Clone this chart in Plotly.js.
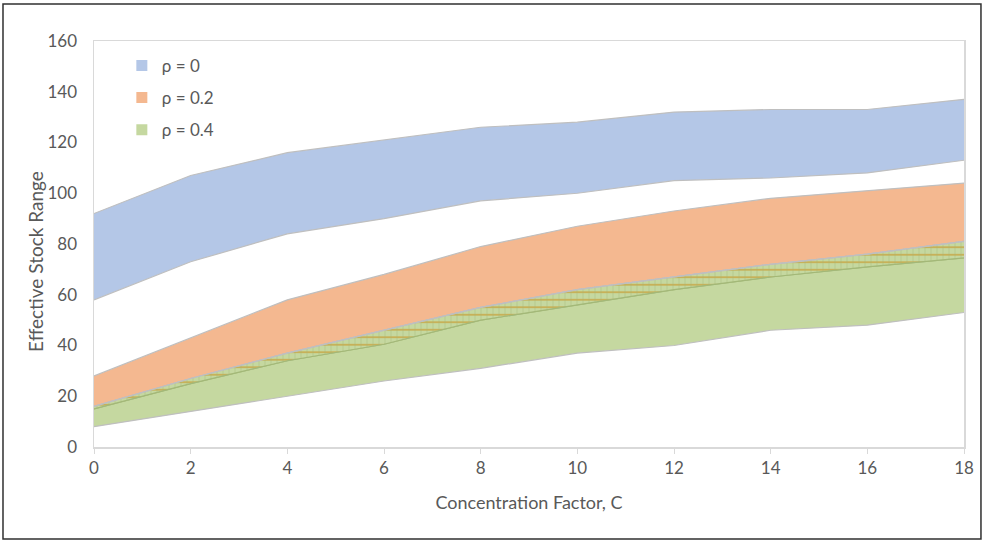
<!DOCTYPE html>
<html>
<head>
<meta charset="utf-8">
<script src="https://cdn.plot.ly/plotly-3.0.1.min.js"></script>
<style>html,body{margin:0;padding:0;background:#fff;}#chart{width:985px;height:543px;}</style>
</head>
<body>
<div id="chart"></div>
<script>
// Concentration factor C
var concentration = [0, 2, 4, 6, 8, 10, 12, 14, 16, 18];
// rho = 0 band
var rho0Lower = [58, 73, 84, 90, 97, 100, 105, 106, 108, 113];
var rho0Upper = [92, 107, 116, 121, 126, 128, 132, 133, 133, 137];
// rho = 0.2 band
var rho02Lower = [16, 27, 37, 46, 55, 62, 67, 72, 76, 81];
var rho02Upper = [28, 43, 58, 68, 79, 87, 93, 98, 101, 104];
// rho = 0.4 band
var rho04Lower = [8, 14, 20, 26, 31, 37, 40, 46, 48, 53];
var rho04Upper = [15, 25, 34, 40.5, 50, 56, 62, 67, 71, 74.5];
var legendNames = ["\u03c1 = 0", "\u03c1 = 0.2", "\u03c1 = 0.4"];
var xTicks = [0, 2, 4, 6, 8, 10, 12, 14, 16, 18];
var yTicks = [0, 20, 40, 60, 80, 100, 120, 140, 160];

var blue = "#b4c7e7", orange = "#f4b890", green = "#c5d8a0";
var edge = {color: "#bfbfbf", width: 1.2};

function line(y, ln, fill, fc, extra) {
  var t = {x: concentration, y: y, type: "scatter", mode: "lines", line: ln, showlegend: false, hoverinfo: "skip"};
  if (fill) { t.fill = fill; t.fillcolor = fc; }
  if (extra) for (var k in extra) t[k] = extra[k];
  return t;
}

var traces = [
  line(rho0Lower, edge),
  line(rho0Upper, edge, "tonexty", blue),
  line(rho02Lower, edge),
  line(rho02Upper, edge, "tonexty", orange),
  line(rho04Lower, edge),
  line(rho04Upper, {color: "#a3b878", width: 1.2}, "tonexty", green),
  // hatched gap between rho=0.4 upper and rho=0.2 lower
  line(rho04Upper, {width: 0}),
  line(rho02Lower, edge, "tonexty", green, {fillpattern: {shape: "-", fgcolor: "#c9a23c", bgcolor: green, size: 7.5, solidity: 0.18}}),
  line(rho04Upper, {width: 0}),
  line(rho02Lower, edge, "tonexty", "rgba(0,0,0,0)", {fillpattern: {shape: "|", fgcolor: "rgba(160,180,115,0.45)", bgcolor: "rgba(0,0,0,0)", size: 6, solidity: 0.15}}),
  line(rho04Upper, {color: "#a3b878", width: 1.2})
];

var legendColors = [blue, orange, green];
for (var i = 0; i < 3; i++) {
  traces.push({x: [null], y: [null], type: "scatter", mode: "markers", name: legendNames[i],
    legendgroup: "g" + i, marker: {symbol: "square", size: 11, color: legendColors[i]}, showlegend: true});
}

var font = "Lato, 'Open Sans', sans-serif";
var layout = {
  width: 985, height: 543,
  margin: {l: 94, r: 21, t: 41, b: 96},
  paper_bgcolor: "#ffffff", plot_bgcolor: "#ffffff",
  font: {family: font, color: "#595959", size: 17},
  showlegend: true,
  legend: {x: 0.032, y: 0.983, xanchor: "left", yanchor: "top", traceorder: "grouped", tracegroupgap: 7,
    font: {family: font, size: 17, color: "#595959"}, bgcolor: "rgba(0,0,0,0)"},
  xaxis: {range: [0, 18], tickvals: xTicks, ticktext: xTicks.map(String), showgrid: false, zeroline: false,
    showline: true, linecolor: "#d9d9d9", linewidth: 1.5, mirror: true,
    ticks: "outside", ticklen: 5, tickcolor: "#d9d9d9",
    title: {text: "Concentration Factor, C", font: {size: 18, color: "#595959"}, standoff: 19}},
  yaxis: {range: [0, 160], tickvals: yTicks, ticktext: yTicks.map(String), showgrid: false, zeroline: false,
    showline: true, linecolor: "#d9d9d9", linewidth: 1.5, mirror: true, ticks: "", ticklabelstandoff: 12},
  annotations: [{text: "Effective Stock Range", xref: "paper", yref: "paper", x: -0.068, y: 0.458,
    xanchor: "center", yanchor: "middle", textangle: -90, showarrow: false,
    font: {family: font, size: 19, color: "#595959"}}],
  shapes: [{type: "rect", xref: "paper", yref: "paper", x0: -0.1046, x1: 1.0195, y0: -0.2266, y1: 1.0911,
    line: {color: "#303030", width: 1.5}, fillcolor: "rgba(0,0,0,0)", layer: "below"}]
};

Plotly.newPlot("chart", traces, layout, {displayModeBar: false, staticPlot: true});
</script>
</body>
</html>
